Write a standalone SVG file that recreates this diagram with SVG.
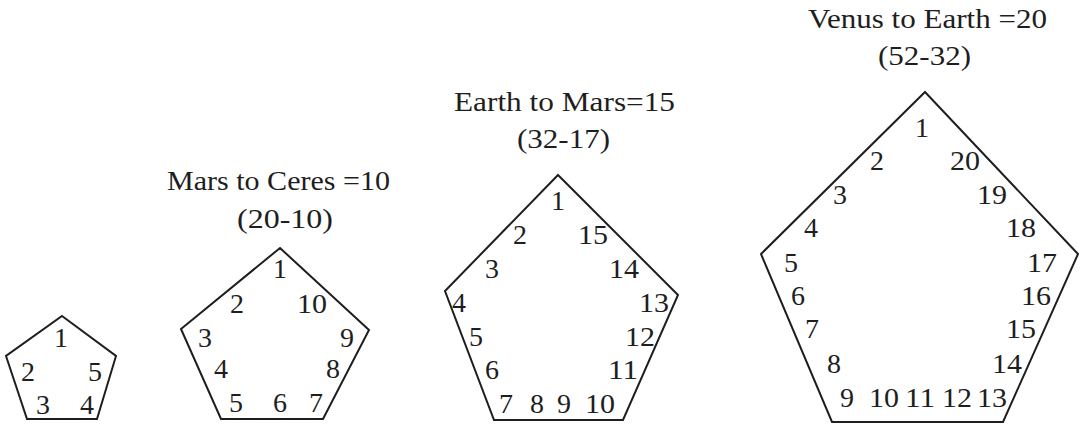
<svg xmlns="http://www.w3.org/2000/svg" width="1082" height="426" viewBox="0 0 1082 426">
<style>
.pg{fill:none;stroke:#1e1e1e;stroke-width:2;stroke-linejoin:miter}
text{font-family:"Liberation Serif","Times New Roman",serif;font-size:28px;fill:#1e1e1e}
.n{text-anchor:middle}
</style>
<rect width="1082" height="426" fill="#fff"/>
<g id="pent1">
<polygon class="pg" points="62,316 116,356 97,419 27,419 6,356"/>
<text class="n" x="61" y="347">1</text>
<text class="n" x="28" y="381">2</text>
<text class="n" x="95" y="381">5</text>
<text class="n" x="43" y="414">3</text>
<text class="n" x="87" y="414">4</text>
</g>
<g id="pent2">
<text x="167" y="190" textLength="223" lengthAdjust="spacingAndGlyphs">Mars to Ceres =10</text>
<text x="237" y="228" textLength="96" lengthAdjust="spacingAndGlyphs">(20-10)</text>
<polygon class="pg" points="280,248 369,330 323,419 221,419 181,329"/>
<text class="n" x="280" y="278">1</text>
<text class="n" x="237" y="313">2</text>
<text class="n" x="312" y="313" textLength="30" lengthAdjust="spacingAndGlyphs">10</text>
<text class="n" x="205" y="347">3</text>
<text class="n" x="347" y="347">9</text>
<text class="n" x="221" y="378">4</text>
<text class="n" x="333" y="378">8</text>
<text class="n" x="236" y="412">5</text>
<text class="n" x="280" y="412">6</text>
<text class="n" x="316" y="412">7</text>
</g>
<g id="pent3">
<text x="454" y="111" textLength="221" lengthAdjust="spacingAndGlyphs">Earth to Mars=15</text>
<text x="517" y="148" textLength="93" lengthAdjust="spacingAndGlyphs">(32-17)</text>
<polygon class="pg" points="558,175 678,295 623,420 494,420 445,291"/>
<text class="n" x="558" y="210">1</text>
<text class="n" x="520" y="244">2</text>
<text class="n" x="593" y="244" textLength="30" lengthAdjust="spacingAndGlyphs">15</text>
<text class="n" x="492" y="278">3</text>
<text class="n" x="624" y="278" textLength="30" lengthAdjust="spacingAndGlyphs">14</text>
<text class="n" x="459" y="312">4</text>
<text class="n" x="654" y="312" textLength="30" lengthAdjust="spacingAndGlyphs">13</text>
<text class="n" x="476" y="346">5</text>
<text class="n" x="640" y="346" textLength="30" lengthAdjust="spacingAndGlyphs">12</text>
<text class="n" x="492" y="379">6</text>
<text class="n" x="623" y="379" textLength="30" lengthAdjust="spacingAndGlyphs">11</text>
<text class="n" x="506" y="413">7</text>
<text class="n" x="537" y="413">8</text>
<text class="n" x="564" y="413">9</text>
<text class="n" x="600" y="413" textLength="30" lengthAdjust="spacingAndGlyphs">10</text>
</g>
<g id="pent4">
<text x="808" y="28" textLength="239" lengthAdjust="spacingAndGlyphs">Venus to Earth =20</text>
<text x="878" y="65" textLength="93" lengthAdjust="spacingAndGlyphs">(52-32)</text>
<polygon class="pg" points="925,92 1078,254 1003,422 832,422 761,254"/>
<text class="n" x="922" y="137">1</text>
<text class="n" x="877" y="170">2</text>
<text class="n" x="965" y="170" textLength="30" lengthAdjust="spacingAndGlyphs">20</text>
<text class="n" x="840" y="204">3</text>
<text class="n" x="992" y="204" textLength="30" lengthAdjust="spacingAndGlyphs">19</text>
<text class="n" x="811" y="237">4</text>
<text class="n" x="1021" y="237" textLength="30" lengthAdjust="spacingAndGlyphs">18</text>
<text class="n" x="791" y="272">5</text>
<text class="n" x="1042" y="272" textLength="30" lengthAdjust="spacingAndGlyphs">17</text>
<text class="n" x="798" y="305">6</text>
<text class="n" x="1036" y="305" textLength="30" lengthAdjust="spacingAndGlyphs">16</text>
<text class="n" x="812" y="338">7</text>
<text class="n" x="1021" y="338" textLength="30" lengthAdjust="spacingAndGlyphs">15</text>
<text class="n" x="834" y="373">8</text>
<text class="n" x="1007" y="373" textLength="30" lengthAdjust="spacingAndGlyphs">14</text>
<text class="n" x="847" y="407">9</text>
<text class="n" x="884" y="407" textLength="30" lengthAdjust="spacingAndGlyphs">10</text>
<text class="n" x="920" y="407" textLength="30" lengthAdjust="spacingAndGlyphs">11</text>
<text class="n" x="957" y="407" textLength="30" lengthAdjust="spacingAndGlyphs">12</text>
<text class="n" x="992" y="407" textLength="30" lengthAdjust="spacingAndGlyphs">13</text>
</g>
</svg>
